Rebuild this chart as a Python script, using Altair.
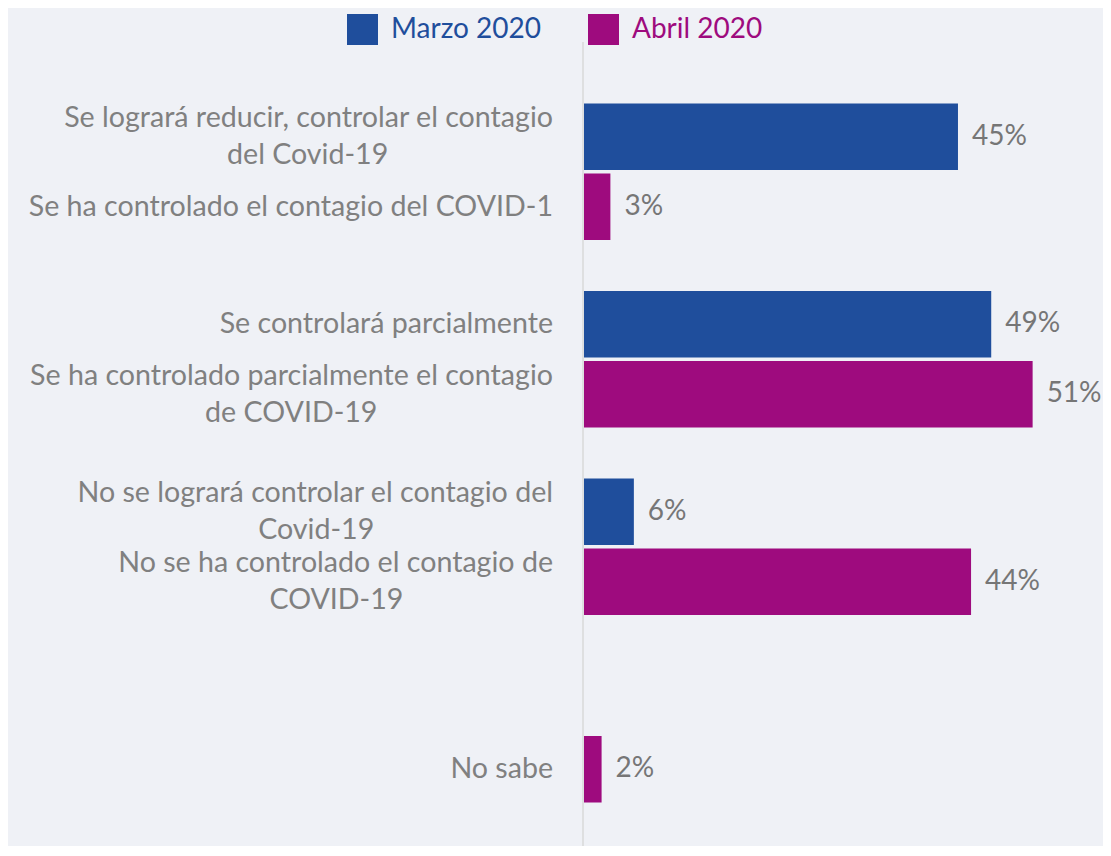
import altair as alt
import pandas as pd

# ---------------- data ----------------
series = ["Marzo 2020", "Abril 2020"]
groups = ["G1", "G2", "G3", "G4"]

marzo_labels = [
    "Se logrará reducir, controlar el contagio\ndel Covid-19",
    "Se controlará parcialmente",
    "No se logrará controlar el contagio del\nCovid-19",
    "",
]
marzo_values = [45, 49, 6, None]

abril_labels = [
    "Se ha controlado el contagio del COVID-1",
    "Se ha controlado parcialmente el contagio\nde COVID-19",
    "No se ha controlado el contagio de\nCOVID-19",
    "No sabe",
]
abril_values = [3, 51, 44, 2]

colors = ["#1f4e9c", "#9e0b7e"]

# ---------------- layout helpers ----------------
FONT = "Lato"
LABEL_SIZE = 28.6
LINE_H = 36.7
LABEL_X = -31
K = 0.98  # Lato vs Arial width factor (estimate)

ARIAL = {
    " ": 278, "a": 556, "b": 556, "c": 500, "d": 556, "e": 556, "f": 278, "g": 556,
    "h": 556, "i": 222, "j": 222, "k": 500, "l": 222, "m": 833, "n": 556, "o": 556,
    "p": 556, "q": 556, "r": 333, "s": 500, "t": 278, "u": 556, "v": 500, "w": 722,
    "x": 500, "y": 500, "z": 500, "á": 556, ",": 278, "-": 333, "C": 722, "O": 778,
    "V": 667, "I": 278, "D": 722, "S": 667, "N": 722,
}


def est_width(s, size):
    return sum(ARIAL.get(c, 556) for c in s) / 1000 * size * K


bars, singles, firsts, seconds = [], [], [], []
for s, labs, vals in [(series[0], marzo_labels, marzo_values),
                      (series[1], abril_labels, abril_values)]:
    for g, lab, v in zip(groups, labs, vals):
        if v is None:
            continue
        bars.append({"group": g, "series": s, "value": v, "txt": f"{v}%"})
        lines = lab.split("\n")
        if len(lines) == 1:
            singles.append({"group": g, "series": s, "line": lines[0]})
        else:
            firsts.append({"group": g, "series": s, "line": lines[0]})
            seconds.append({"group": g, "series": s, "line": lines[1],
                            "cx": LABEL_X - est_width(lines[0], LABEL_SIZE) / 2})

bars_df = pd.DataFrame(bars)
W, H = 519, 750

y_enc = alt.Y("group:N", scale=alt.Scale(domain=groups, paddingInner=0, paddingOuter=0), axis=None)
yoff_enc = alt.YOffset("series:N", scale=alt.Scale(domain=series, paddingInner=0.05, paddingOuter=0.364))
color_enc = alt.Color(
    "series:N",
    scale=alt.Scale(domain=series, range=colors),
    legend=alt.Legend(
        title=None, orient="none", legendX=-237, legendY=-64, direction="horizontal",
        symbolType="square", symbolSize=961, symbolStrokeWidth=0, symbolOpacity=1,
        labelFont=FONT, labelFontSize=28, labelOffset=13, columnPadding=46, padding=0,
        labelColor={"expr": "datum.label == 'Marzo 2020' ? '#1f4e9c' : '#9e0b7e'"},
    ),
)


def series_layer(name, dmax):
    base = alt.Chart(bars_df).transform_filter(alt.datum.series == name)
    x_enc = alt.X("value:Q", scale=alt.Scale(domain=[0, dmax], nice=False, zero=True), axis=None)
    bar = base.mark_bar().encode(x=x_enc, y=y_enc, yOffset=yoff_enc, color=color_enc)
    txt = base.mark_text(align="left", baseline="middle", dx=14, font=FONT,
                         fontSize=28, color="#767676").encode(
        x=x_enc, y=y_enc, yOffset=yoff_enc, text="txt:N")
    return alt.layer(bar, txt)


marzo_layer = series_layer(series[0], 62.45)
abril_layer = series_layer(series[1], 59.0)

axis_line = alt.Chart(pd.DataFrame({"a": [0]})).mark_rule(color="#d9d9d9", strokeWidth=1.5).encode(
    x=alt.value(-1), y=alt.value(-36), y2=alt.value(H + 18))

lab_style = dict(font=FONT, fontSize=LABEL_SIZE, color="#808080", baseline="middle")
single_layer = alt.Chart(pd.DataFrame(singles)).mark_text(align="right", **lab_style).encode(
    x=alt.value(LABEL_X), y=y_enc, yOffset=yoff_enc, text="line:N")
first_layer = alt.Chart(pd.DataFrame(firsts)).mark_text(align="right", dy=-LINE_H / 2, **lab_style).encode(
    x=alt.value(LABEL_X), y=y_enc, yOffset=yoff_enc, text="line:N")
second_layer = alt.Chart(pd.DataFrame(seconds)).mark_text(align="center", dy=LINE_H / 2, **lab_style).encode(
    x=alt.X("cx:Q", scale=None), y=y_enc, yOffset=yoff_enc, text="line:N")

chart = alt.layer(
    axis_line, marzo_layer, abril_layer, single_layer, first_layer, second_layer
).resolve_scale(x="independent").properties(
    width=W, height=H,
    autosize=alt.AutoSizeParams(type="none"),
    padding={"left": 576, "top": 70, "right": 0, "bottom": 18},
    background="#eff1f6",
).configure_view(stroke=None)

chart.save("out.html", embed_options={"renderer": "svg", "actions": False})
